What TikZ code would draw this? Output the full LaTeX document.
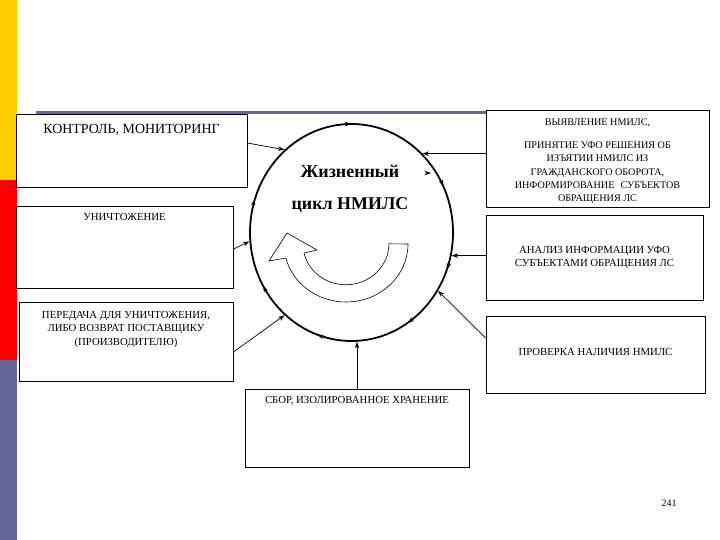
\documentclass[tikz,border=0pt]{standalone}
\usepackage{fontspec}
\setmainfont{Liberation Serif}
\usetikzlibrary{arrows.meta,shapes.geometric,decorations.markings}
\definecolor{baryellow}{HTML}{FFCC00}
\definecolor{barred}{HTML}{FF0000}
\definecolor{barslate}{HTML}{666699}

\begin{document}
\begin{tikzpicture}[
  x=1bp,y=-1bp,
  line join=miter,
  >={Stealth[length=6.5bp,width=4.5bp]},
  box/.style={draw,line width=0.9bp,fill=white,inner sep=0pt},
  boxtext/.style={font=\fontsize{10.8}{13.5}\selectfont,align=center,inner sep=2bp},
  toptext/.style={label={[boxtext,anchor=north,yshift=-6bp]north:{#1}}},
  link/.style={->,line width=0.7bp},
  ring/.style={draw,ellipse,line width=1.8bp,inner sep=0pt,
    postaction={decorate},
    decoration={markings,
      mark=at position 0.072 with {\arrowreversed{Stealth[length=6.5bp,width=4.5bp]}},
      mark=at position 0.25 with {\arrowreversed{Stealth[length=6.5bp,width=4.5bp]}},
      mark=at position 0.449 with {\arrowreversed{Stealth[length=6.5bp,width=4.5bp]}},
      mark=at position 0.584 with {\arrowreversed{Stealth[length=6.5bp,width=4.5bp]}},
      mark=at position 0.697 with {\arrowreversed{Stealth[length=6.5bp,width=4.5bp]}},
      mark=at position 0.841 with {\arrowreversed{Stealth[length=6.5bp,width=4.5bp]}},
      mark=at position 0.943 with {\arrowreversed{Stealth[length=6.5bp,width=4.5bp]}}}}
]
\useasboundingbox (0,0) rectangle (720,540);

% slide decoration: side bar and rule
\fill[baryellow] (0,0) rectangle (17,180);
\fill[barred] (0,180) rectangle (17,360);
\fill[barslate] (0,360) rectangle (17,540);
\draw[barslate,line width=3bp] (36,113) -- (486,113);

% the cycle
\node[ring,minimum width=203bp,minimum height=217bp] (ring) at (351.5,232.5) {};
\node[font=\fontsize{18}{32}\selectfont\bfseries,align=center] (title) at (350,189)
  {Жизненный\\цикл НМИЛС};
\draw[line width=0.6bp,fill=white] (408,244)
  arc[start angle=0,end angle=166,x radius=62,y radius=58]
  -- (269,261) -- (287,233) -- (317,250) -- (304,253)
  arc[start angle=167,end angle=0,x radius=43,y radius=41] -- cycle;
\coordinate (stray) at (427,173);
\draw[->,line width=0.6bp] (stray) -- ++(4,0);

% left column
\node[box,minimum width=231bp,minimum height=73bp,
  label={[boxtext,font=\fontsize{14}{15}\selectfont,anchor=north,yshift=-8.5bp]north:{КОНТРОЛЬ, МОНИТОРИНГ}}]
  (kontrol) at (131.5,150.5) {};
\node[box,minimum width=217bp,minimum height=82bp,toptext={УНИЧТОЖЕНИЕ}]
  (unicht) at (124.5,247) {};
\node[box,minimum width=214bp,minimum height=79bp,
  label={[boxtext,anchor=north,yshift=-7.5bp]north:{ПЕРЕДАЧА ДЛЯ УНИЧТОЖЕНИЯ,\\ЛИБО ВОЗВРАТ ПОСТАВЩИКУ\\(ПРОИЗВОДИТЕЛЮ)}}]
  (peredacha) at (126,341.5) {};

% bottom
\node[box,minimum width=224bp,minimum height=78bp,toptext={СБОР, ИЗОЛИРОВАННОЕ ХРАНЕНИЕ}]
  (sbor) at (357,428) {};

% right column
\node[box,minimum width=223bp,minimum height=97bp,
  label={[boxtext,font=\fontsize{10.2}{13.3}\selectfont,anchor=north,yshift=-7bp]north:{ВЫЯВЛЕНИЕ НМИЛС,\\[10bp]ПРИНЯТИЕ УФО РЕШЕНИЯ ОБ\\ИЗЪЯТИИ НМИЛС ИЗ\\ГРАЖДАНСКОГО ОБОРОТА,\\ИНФОРМИРОВАНИЕ\hspace{0.6em}СУБЪЕКТОВ\\ОБРАЩЕНИЯ ЛС}}]
  (vyyavl) at (597.5,158.5) {};
\node[box,boxtext,minimum width=217bp,minimum height=85bp]
  (analiz) at (594.5,257.5) {АНАЛИЗ ИНФОРМАЦИИ УФО\\СУБЪЕКТАМИ ОБРАЩЕНИЯ ЛС};
\node[box,minimum width=219bp,minimum height=77bp,
  label={[boxtext,anchor=center,yshift=3bp]center:{ПРОВЕРКА НАЛИЧИЯ НМИЛС}}]
  (proverka) at (595.5,354.5) {};

% connectors into the cycle
\draw[link] ([yshift=7.5bp]kontrol.east) -- (ring.129.7);
\draw[link] ([yshift=-2bp]unicht.east) -- (ring.185.6);
\draw[link] ([yshift=-10.5bp]peredacha.east) -- (ring.231);
\draw[link] (sbor.north) -- (sbor.north |- ring.south);
\draw[link] ([yshift=16.5bp]proverka.west) -- (ring.326.4);
\draw[link] (ring.347.2 -| analiz.west) -- (ring.347.2);
\draw[link] (ring.48 -| vyyavl.west) -- (ring.48);

\node[font=\fontsize{10}{12}\selectfont] (page) at (669,503) {241};
\end{tikzpicture}
\end{document}
